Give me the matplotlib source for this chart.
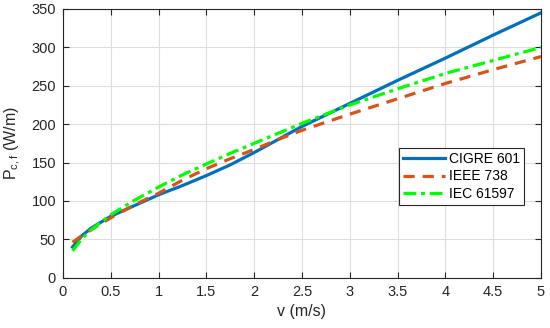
import matplotlib.pyplot as plt

# %% Data
v = [0.1, 0.2, 0.3, 0.5, 0.75, 1.0, 1.25, 1.5, 1.75, 2.0, 2.25, 2.5, 3.0, 3.5, 4.0, 4.5, 5.0]
cigre = [40, 55, 65, 80, 94, 108, 120, 133, 147, 163, 180, 197, 227, 257, 286, 316, 345]
ieee = [46, 55, 63, 78, 95, 110, 127, 142, 155, 167, 180, 192, 213, 233, 253, 271, 288]
iec = [35, 51, 63, 82, 101, 118, 134, 148, 162, 175, 188, 201, 225, 246, 266, 283, 300]

# %% Plot
plt.rcParams['font.family'] = ['Liberation Sans', 'DejaVu Sans']
plt.rcParams['mathtext.fontset'] = 'custom'
plt.rcParams['mathtext.rm'] = 'Liberation Sans'
plt.rcParams['mathtext.it'] = 'Liberation Sans'

fig = plt.figure(figsize=(5.5, 3.28), dpi=100)
ax = fig.add_axes([0.1145, 0.1534, 0.8691, 0.8192])

ax.plot(v, cigre, color="#0072BD", lw=2.3, label="CIGRE 601")
ax.plot(v, ieee, color="#D95319", lw=2.3, ls=(0, (3.5, 2.5)), label="IEEE 738")
ax.plot(v, iec, color="#00FF00", lw=2.3, ls=(0, (4, 1.5, 1.2, 1.5)), label="IEC 61597")

ax.set_xlim(0, 5)
ax.set_ylim(0, 350)
ax.set_xticks([0, 0.5, 1, 1.5, 2, 2.5, 3, 3.5, 4, 4.5, 5])
ax.set_xticklabels(["0", "0.5", "1", "1.5", "2", "2.5", "3", "3.5", "4", "4.5", "5"])
ax.set_yticks(range(0, 351, 50))
ax.grid(True, color="#dddddd", lw=0.8)
ax.set_axisbelow(True)
ax.tick_params(direction="in", top=True, right=True, length=4, labelsize=10.5, colors="#262626", pad=5)
for s in ax.spines.values():
    s.set_color("#262626")
    s.set_linewidth(0.8)

ax.set_xlabel("v (m/s)", fontsize=11.5, color="#262626", labelpad=4)
ax.set_ylabel("$\\mathrm{P_{c,f}}$ (W/m)", fontsize=11.5, color="#262626", labelpad=6)

leg = ax.legend(loc="lower left", bbox_to_anchor=(0.703, 0.27), fontsize=10,
                handlelength=3.0, fancybox=False, framealpha=1, borderpad=0.3,
                labelspacing=0.25, handletextpad=0.3, borderaxespad=0)
leg.get_frame().set_edgecolor("#262626")
leg.get_frame().set_linewidth(0.8)

fig.savefig("out.png", dpi=100)
